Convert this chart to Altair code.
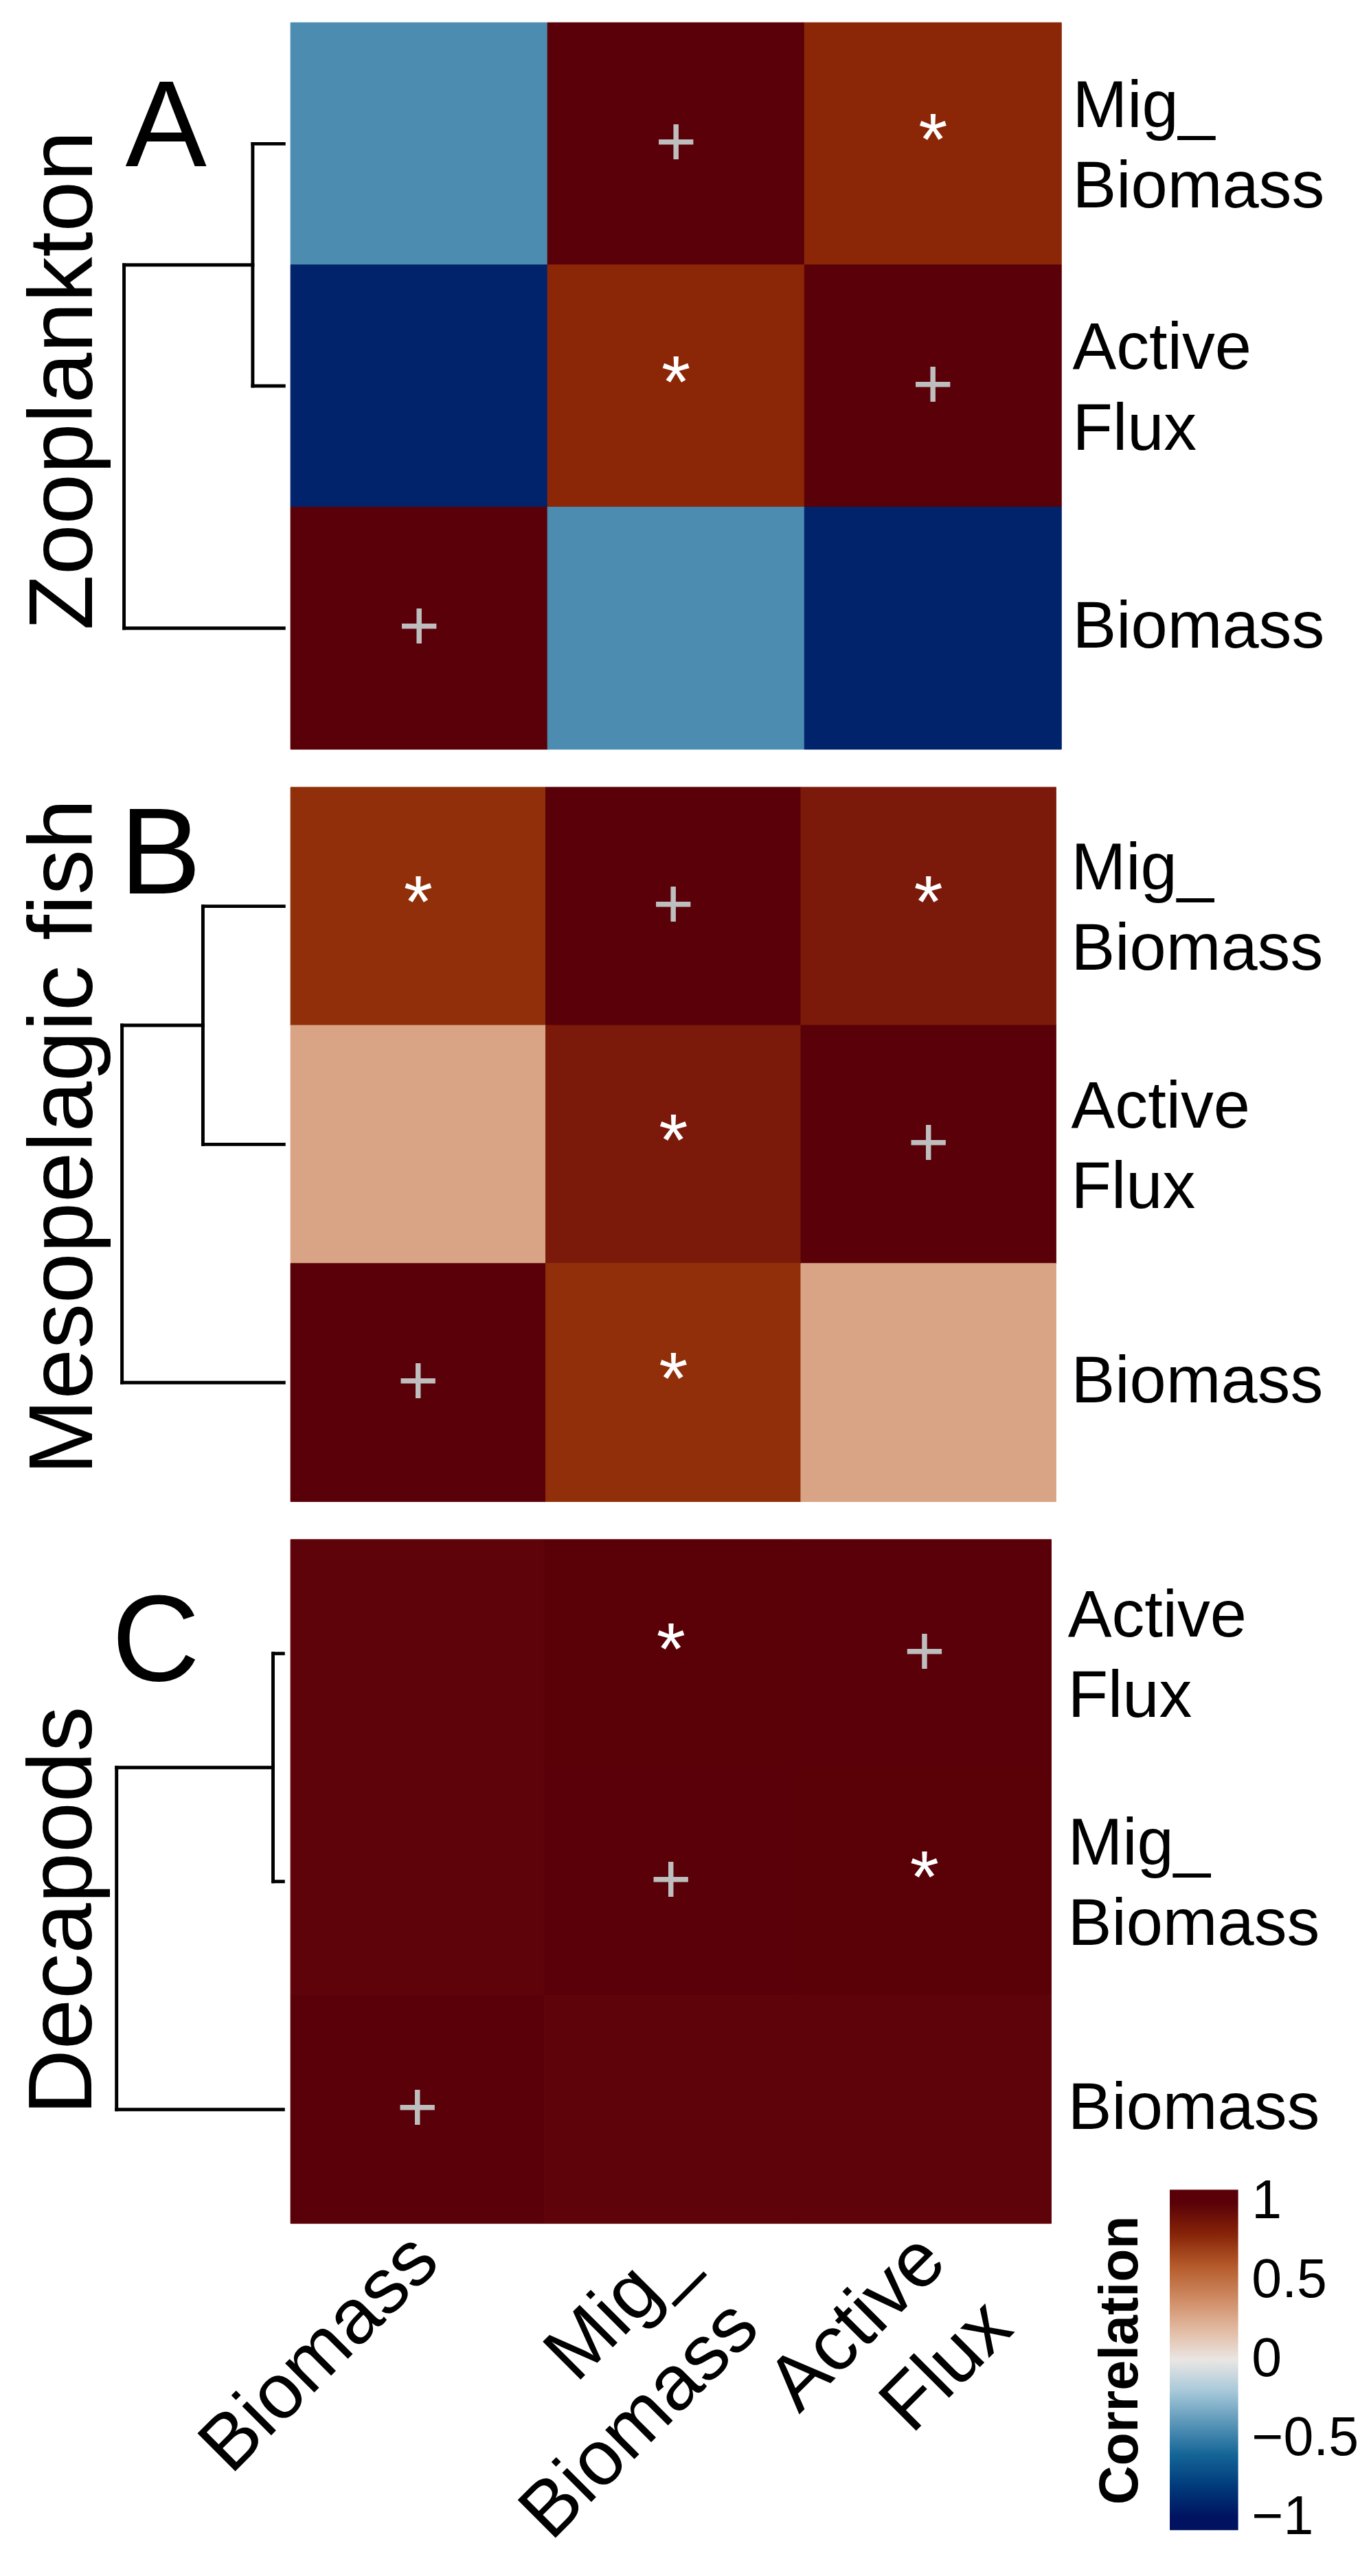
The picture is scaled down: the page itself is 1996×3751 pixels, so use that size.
import altair as alt
import pandas as pd

FONT = "Liberation Sans"

# ---------------- data ----------------
COLS = ["Biomass", "Mig_Biomass", "Active Flux"]
COL_TEXT = ["Biomass", "Mig_|Biomass", "Active|Flux"]   # '|' = line break in labels

GROUPS = ["Zooplankton", "Mesopelagic fish", "Decapods"]
LETTERS = ["A", "B", "C"]
ROW_ORDERS = [
    ["Mig_Biomass", "Active Flux", "Biomass"],
    ["Mig_Biomass", "Active Flux", "Biomass"],
    ["Active Flux", "Mig_Biomass", "Biomass"],
]
# pairwise correlations per group
R_BIO_MIG = [-0.44, 0.75, 0.978]
R_BIO_ACT = [-0.92, 0.28, 0.978]
R_MIG_ACT = [0.78, 0.85, 0.995]
# significance (*) per pair
SIG_BIO_MIG = [False, True, False]
SIG_BIO_ACT = [False, False, False]
SIG_MIG_ACT = [True, True, True]
# dendrogram merge heights (Mig_Biomass+Active Flux, then root with Biomass)
H_INNER = [0.195, 0.50, 0.061]
H_ROOT = [1.0, 1.0, 1.0]

# scico "vik" diverging palette
VIK_STOPS = [-1.08, -1.0, -0.778, -0.556, -0.333, -0.111, 0.0, 0.111, 0.333, 0.556, 0.778, 1.0, 1.08]
VIK_COLORS = ["#001260", "#001260", "#033F7D", "#1D6E9C", "#71A8C4", "#C9DDE7", "#EAE6E3",
              "#EACEBD", "#D39774", "#BE6533", "#8B2706", "#590008", "#590008"]
LEGEND_VALUES = [-1, -0.5, 0, 0.5, 1]

# ---------------- layout (style) ----------------
PANEL_W = [1138, 1130, 1123]
PANEL_H = [1073, 1055, 1010]
DENDRO_RANGE = [[-10, -246], [-10, -249], [-11, -257]]
LETTER_POS = [(-184, 212), (-192, 157), (-199, 208)]
Y_LABEL_PAD = [16, 22, 24]
TITLE_OFFSET = [16, 12.5, 2.5]
TITLE_DX = [8, 11, -43]
Y_LINE_H = 119

disp = dict(zip(COLS, COL_TEXT))


def cell_table(k):
    pair_r = {
        frozenset(["Biomass", "Mig_Biomass"]): (R_BIO_MIG[k], SIG_BIO_MIG[k]),
        frozenset(["Biomass", "Active Flux"]): (R_BIO_ACT[k], SIG_BIO_ACT[k]),
        frozenset(["Mig_Biomass", "Active Flux"]): (R_MIG_ACT[k], SIG_MIG_ACT[k]),
    }
    rows = []
    for r in ROW_ORDERS[k]:
        for c in COLS:
            if r == c:
                val, sym = 1.0, "+"
            else:
                val, sig = pair_r[frozenset([r, c])]
                sym = "*" if sig else ""
            rows.append({"row": disp[r], "col": disp[c], "r": val, "sym": sym})
    return pd.DataFrame(rows)


def dendro_table(k):
    order = ROW_ORDERS[k]
    pos = {v: order.index(v) + 0.5 for v in order}
    hi, hr = H_INNER[k], H_ROOT[k]
    ym, ya, yb = pos["Mig_Biomass"], pos["Active Flux"], pos["Biomass"]
    yi = (ym + ya) / 2
    segs = [
        (0, ym, hi, ym), (0, ya, hi, ya), (hi, ym, hi, ya),
        (hi, yi, hr, yi), (0, yb, hr, yb), (hr, yi, hr, yb),
    ]
    return pd.DataFrame(segs, columns=["h0", "p0", "h1", "p1"])


def panel(k, show_x, show_legend):
    W, H = PANEL_W[k], PANEL_H[k]
    cells = cell_table(k)
    row_sort = [disp[r] for r in ROW_ORDERS[k]]

    if show_x:
        xaxis = alt.Axis(title=None, labelAngle=-45, labelFontSize=115, labelFont=FONT,
                         labelColor="black", ticks=False, domain=False, labelPadding=-4,
                         labelOffset=-28, labelBaseline="top", labelAlign="right",
                         labelExpr="split(datum.label, '|')", labelLineHeight=139,
                         labelLimit=2000)
    else:
        xaxis = None
    x = alt.X("col:N", sort=COL_TEXT, axis=xaxis,
              scale=alt.Scale(paddingInner=0, paddingOuter=0))
    y = alt.Y("row:N", sort=row_sort,
              axis=alt.Axis(title=None, orient="right", labelFontSize=97, labelFont=FONT,
                            labelColor="black", ticks=False, domain=False,
                            labelPadding=Y_LABEL_PAD[k], labelLimit=2000,
                            labelOffset={"condition": {"test": "indexof(datum.value, '|') >= 0",
                                                       "value": -54},
                                         "value": 0},
                            labelExpr="split(datum.label, '|')", labelLineHeight=Y_LINE_H),
              scale=alt.Scale(paddingInner=0, paddingOuter=0))

    if show_legend:
        legend = alt.Legend(
            orient="none", legendX=1186, legendY=960, direction="vertical",
            gradientLength=503, gradientThickness=101, gradientStrokeWidth=0,
            title="Correlation", titleOrient="left", titleFontSize=80, titleFont=FONT,
            titleFontWeight="bold", titleColor="black", titleAnchor="middle", titlePadding=30,
            titleLimit=2000,
            labelFontSize=80, labelFont=FONT, labelColor="black", labelOffset=20,
            values=LEGEND_VALUES, format="~g", labelOverlap=False, padding=0,
        )
    else:
        legend = None
    cscale = alt.Scale(domain=VIK_STOPS, range=VIK_COLORS)
    color = alt.Color("r:Q", scale=cscale, legend=legend)
    stroke = alt.Stroke("r:Q", scale=cscale, legend=None)

    rect = alt.Chart(cells).mark_rect(strokeWidth=1).encode(x=x, y=y, color=color, stroke=stroke)
    plus = alt.Chart(cells).transform_filter("datum.sym == '+'").mark_text(
        fontSize=105, font=FONT, color="#bebebe", baseline="middle", align="center"
    ).encode(x=x, y=y, text="sym:N")
    star = alt.Chart(cells).transform_filter("datum.sym == '*'").mark_text(
        fontSize=110, font=FONT, color="white", baseline="middle", align="center", dy=-2
    ).encode(x=x, y=y, text="sym:N")
    heat = alt.layer(rect, plus, star)

    dendro = alt.Chart(dendro_table(k)).mark_rule(
        color="black", strokeWidth=5, strokeCap="square"
    ).encode(
        x=alt.X("h0:Q", scale=alt.Scale(domain=[0, 1], range=DENDRO_RANGE[k]), axis=None),
        x2="h1:Q",
        y=alt.Y("p0:Q", scale=alt.Scale(domain=[0, 3], range=[0, H]), axis=None),
        y2="p1:Q",
    )
    lx, ly = LETTER_POS[k]
    letter = alt.Chart(pd.DataFrame({"t": [LETTERS[k]]})).mark_text(
        fontSize=180, font=FONT, align="center", baseline="alphabetic", color="black"
    ).encode(text="t:N", x=alt.value(lx), y=alt.value(ly))

    return alt.layer(heat, dendro, letter).resolve_scale(
        x="independent", y="independent"
    ).properties(
        width=W, height=H,
        title=alt.TitleParams(GROUPS[k], orient="left", anchor="middle", frame="group",
                              fontSize=134, font=FONT, fontWeight="normal", color="black",
                              offset=TITLE_OFFSET[k], dx=TITLE_DX[k]),
    )


chart = alt.vconcat(
    panel(0, False, False), panel(1, False, False), panel(2, True, True), spacing=54
).resolve_scale(color="independent").properties(
    padding={"left": 19, "top": -2, "right": 10, "bottom": -8}
).configure_view(stroke=None)

chart.save("out.html", embed_options={"renderer": "svg", "actions": False})
